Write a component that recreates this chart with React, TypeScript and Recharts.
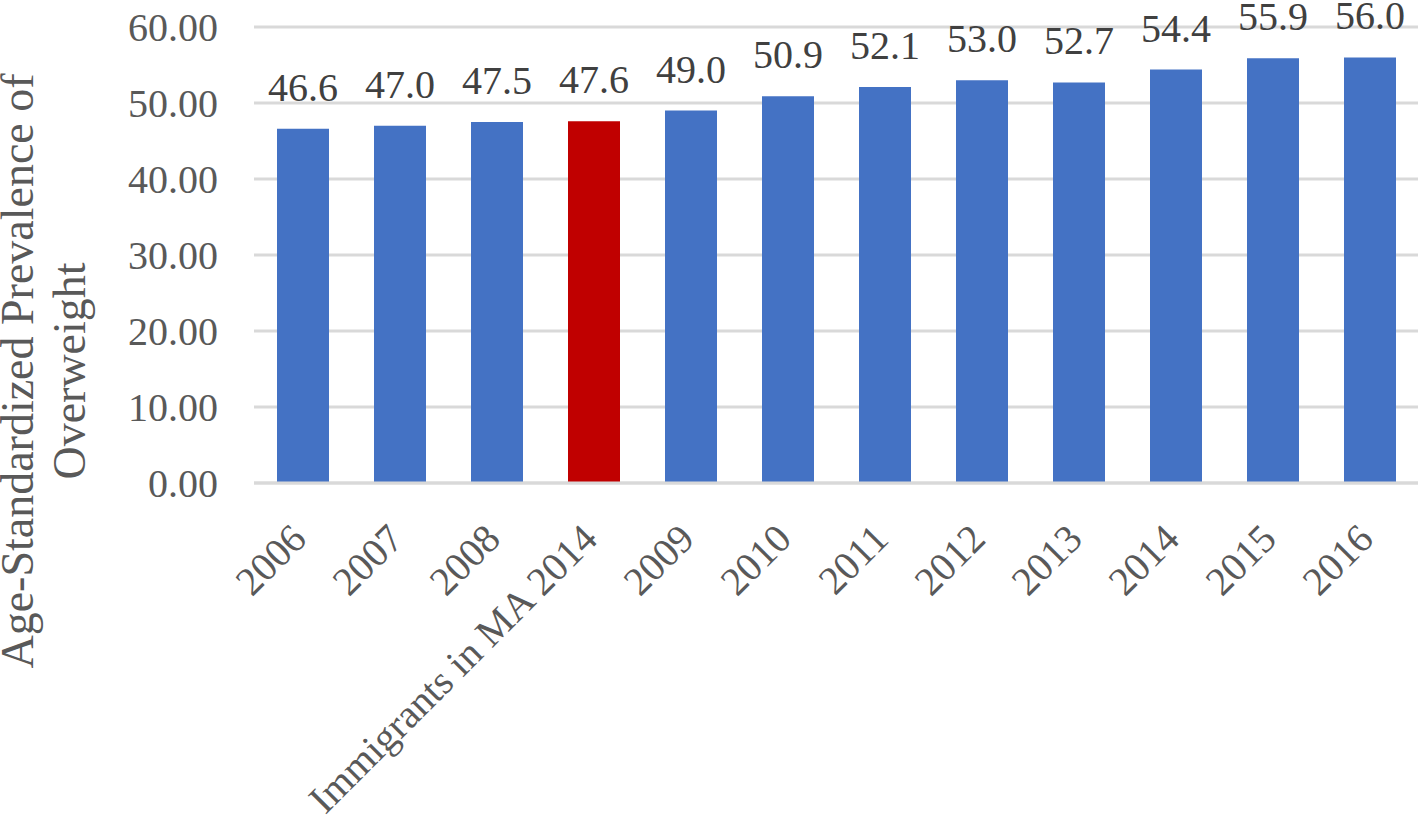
import React from "react";
import { BarChart, Bar, XAxis, YAxis, CartesianGrid, Cell, LabelList } from "recharts";

const FONT = '"Liberation Serif", "Times New Roman", serif';

const categories = ["2006", "2007", "2008", "Immigrants in MA 2014", "2009", "2010", "2011", "2012", "2013", "2014", "2015", "2016"];
const prevalence = [46.6, 47.0, 47.5, 47.6, 49.0, 50.9, 52.1, 53.0, 52.7, 54.4, 55.9, 56.0];
const highlight = "Immigrants in MA 2014";
const yTicks = [0, 10, 20, 30, 40, 50, 60];

const data = categories.map((name, i) => ({ name, value: prevalence[i] }));

function XTick({ x, y, payload }: any) {
  const tx = x + 6;
  const ty = y + 58;
  return (
    <text x={tx} y={ty} textAnchor="end" transform={`rotate(-45 ${tx} ${ty})`} fontSize={40} fill="#595959" fontFamily={FONT}>
      {payload.value}
    </text>
  );
}

function YTitle() {
  return (
    <g fontFamily={FONT} fontSize={46} fill="#595959">
      <text x={33} y={371} textAnchor="middle" transform="rotate(-90 33 371)">Age-Standardized Prevalence of</text>
      <text x={85} y={371} textAnchor="middle" transform="rotate(-90 85 371)">Overweight</text>
    </g>
  );
}

export default function App() {
  return (
    <div style={{ position: "absolute", left: 0, top: 0, background: "#fff" }}>
      <BarChart width={1418} height={815} data={data} margin={{ top: 27, right: 0, left: 0, bottom: 0 }}>
        <CartesianGrid vertical={false} stroke="#d9d9d9" strokeWidth={3} />
        <XAxis dataKey="name" interval={0} height={332} tickLine={false} axisLine={{ stroke: "#d9d9d9", strokeWidth: 3 }} tickSize={0} tickMargin={0} tick={<XTick />} />
        <YAxis
          width={254}
          domain={[0, 60]}
          ticks={yTicks}
          axisLine={false}
          tickLine={false}
          tickSize={0}
          tickMargin={36}
          tickFormatter={(v: number) => v.toFixed(2)}
          tick={{ fontSize: 40, fill: "#595959", fontFamily: FONT }}
          label={<YTitle />}
        />
        <Bar dataKey="value" barSize={52} isAnimationActive={false}>
          {data.map((d) => (
            <Cell key={d.name} fill={d.name === highlight ? "#C00000" : "#4472C4"} />
          ))}
          <LabelList
            dataKey="value"
            position="top"
            offset={28}
            formatter={(v: number) => v.toFixed(1)}
            style={{ fontSize: 40, fill: "#404040", fontFamily: FONT }}
          />
        </Bar>
      </BarChart>
    </div>
  );
}
